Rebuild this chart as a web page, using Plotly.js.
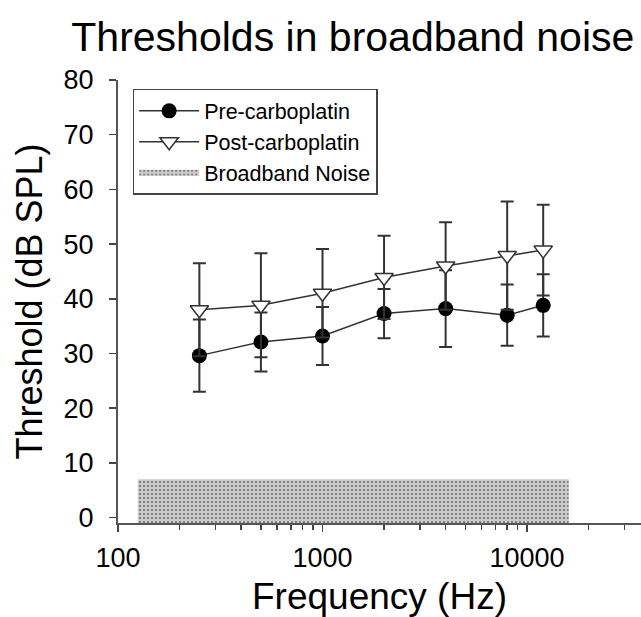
<!DOCTYPE html>
<html>
<head>
<meta charset="utf-8">
<script src="https://cdn.plot.ly/plotly-3.0.1.min.js"></script>
<style>html,body{margin:0;padding:0;background:#fff;}#chart{width:641px;height:617px;}</style>
</head>
<body>
<div id="chart"></div>
<script>
// Data
var freq = [250, 500, 1000, 2000, 4000, 8000, 12000];
var pre = [29.6, 32.1, 33.2, 37.3, 38.2, 37.0, 38.8];
var preErr = [6.6, 5.4, 5.3, 4.5, 7.0, 5.6, 5.7];
var post = [38.0, 38.8, 41.0, 43.9, 46.0, 47.9, 48.9];
var postErr = [8.5, 9.5, 8.1, 7.6, 8.0, 9.9, 8.3];
var noiseFreq = [125, 125, 16000, 16000];
var noiseLevel = [-1, 7, 7, -1];
var xTickVals = [100, 1000, 10000];
var xTickText = ["100", "1000", "10000"];
var xMinorVals = [200,300,400,500,600,700,800,900,2000,3000,4000,5000,6000,7000,8000,9000,20000,30000];
var yTickVals = [0, 10, 20, 30, 40, 50, 60, 70, 80];

var FONT = "Liberation Sans, Arial, sans-serif";

var traces = [
  {
    x: freq, y: pre, name: "Pre-carboplatin", type: "scatter", mode: "lines+markers",
    line: {color: "#333", width: 1.5},
    marker: {symbol: "circle", size: 15, color: "#000"},
    error_y: {type: "data", array: preErr, visible: true, color: "#333", thickness: 2, width: 6.5}
  },
  {
    x: freq, y: post, name: "Post-carboplatin", type: "scatter", mode: "lines+markers",
    line: {color: "#333", width: 1.5},
    marker: {symbol: "triangle-down", size: 16, color: "#fff", line: {color: "#333", width: 1.5}},
    error_y: {type: "data", array: postErr, visible: true, color: "#333", thickness: 2, width: 6.5}
  },
  {
    x: noiseFreq, y: noiseLevel, name: "Broadband Noise", type: "scatter", mode: "none",
    fill: "toself", fillcolor: "#c8c8c8",
    fillpattern: {shape: ".", bgcolor: "#cbcbcb", fgcolor: "#6e6e6e", size: 4, solidity: 0.22}
  }
];

var layout = {
  width: 641, height: 617,
  margin: {l: 118, r: 0, t: 80, b: 94},
  paper_bgcolor: "#fff", plot_bgcolor: "#fff",
  font: {family: FONT, color: "#000"},
  showlegend: true,
  title: {
    text: "Thresholds in broadband noise",
    font: {family: FONT, size: 41, color: "#000"},
    xref: "paper", x: 0.449, xanchor: "center",
    yref: "container", y: 0.94, yanchor: "middle"
  },
  xaxis: {
    type: "log", autorange: false,
    tickmode: "array", tickvals: xTickVals, ticktext: xTickText,
    ticks: "outside", ticklen: 7, tickwidth: 1.5, tickcolor: "#444",
    ticklabelstandoff: 3,
    showline: true, linecolor: "#555", linewidth: 2,
    showgrid: false, zeroline: false,
    tickfont: {family: FONT, size: 27, color: "#000"},
    minor: {tickmode: "array", tickvals: xMinorVals, ticks: "outside", ticklen: 5, tickwidth: 1.5, tickcolor: "#444", showgrid: false},
    title: {text: "Frequency (Hz)", font: {family: FONT, size: 37, color: "#000"}, standoff: 16}
  },
  yaxis: {
    range: [-1, 80], autorange: false,
    tickmode: "array", tickvals: yTickVals,
    ticks: "outside", ticklen: 7, tickwidth: 1.5, tickcolor: "#444",
    ticklabelstandoff: 10,
    showline: true, linecolor: "#555", linewidth: 2,
    showgrid: false, zeroline: false,
    tickfont: {family: FONT, size: 27, color: "#000"},
    title: {text: "Threshold (dB SPL)", font: {family: FONT, size: 36, color: "#000"}, standoff: 10}
  },
  legend: {
    x: 0.028, y: 0.98, xanchor: "left", yanchor: "top",
    bgcolor: "#fff", bordercolor: "#444", borderwidth: 1.5,
    font: {family: FONT, size: 21.5, color: "#000"},
    tracegroupgap: 0, itemwidth: 60
  }
};

layout.xaxis.range = [2, 2 + 523 / 204.5];

Plotly.newPlot("chart", traces, layout, {displayModeBar: false, staticPlot: true});
</script>
</body>
</html>
